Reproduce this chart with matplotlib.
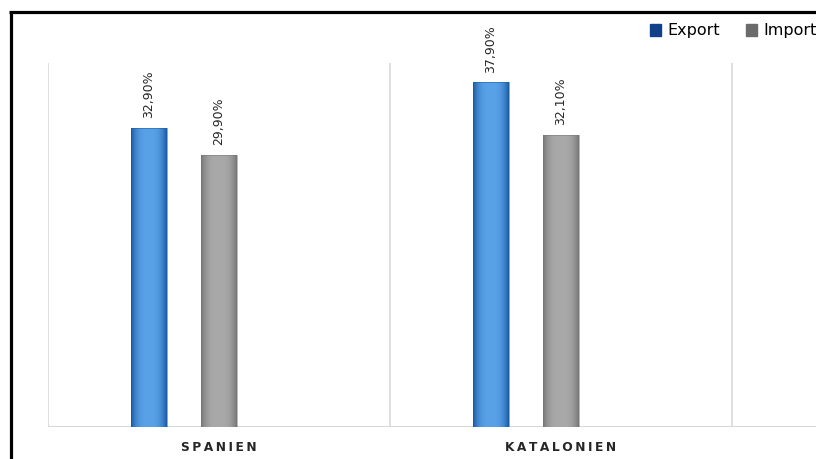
import numpy as np
import matplotlib.pyplot as plt
from matplotlib.colors import to_rgb
from matplotlib.patches import Rectangle
from matplotlib.lines import Line2D

# Daten
regionen = ['SPANIEN', 'KATALONIEN']
export = [32.9, 37.9]
importe = [29.9, 32.1]
labels_export = ['32,90%', '37,90%']
labels_import = ['29,90%', '32,10%']

W, H = 816, 459
fig = plt.figure(figsize=(W / 100, H / 100), dpi=100)
ax = fig.add_axes([48 / W, 32 / H, (W - 48) / W, 364 / H])

ax.set_xlim(0, (W - 48) / 342)
ax.set_ylim(0, 40)
for s in ax.spines.values():
    s.set_visible(False)
ax.set_yticks([])
ax.set_xticks([])

# Gitterlinien / Basislinie
for xv in [0, 1, 2]:
    ax.axvline(xv, color='#d9d9d9', lw=1.2, zorder=0)
ax.axhline(0, color='#d9d9d9', lw=1.5, zorder=0)


def gradient_bar(x, h, w, center, edge):
    c = np.array(to_rgb(center))
    e = np.array(to_rgb(edge))
    t = np.abs(np.linspace(-1, 1, 60))
    f = t ** 3
    img = c[None, :] * (1 - f[:, None]) + e[None, :] * f[:, None]
    img = img[None, :, :]
    rect = Rectangle((x - w / 2, 0), w, h, facecolor='none', edgecolor='none')
    ax.add_patch(rect)
    im = ax.imshow(img, extent=(x - w / 2, x + w / 2, 0, h), aspect='auto',
                   interpolation='bilinear', zorder=2)
    im.set_clip_path(rect)
    # dunkler Rand
    ax.add_patch(Rectangle((x - w / 2, 0), w, h, facecolor='none',
                           edgecolor=edge, lw=0.6, alpha=0.6, zorder=3))


bw = 36 / 342
for i, reg in enumerate(regionen):
    xe = i + 0.295
    xi = i + 0.5
    gradient_bar(xe, export[i], bw, '#59a2e8', '#1a5aa3')
    gradient_bar(xi, importe[i], bw, '#a9a9a9', '#777777')
    ax.text(xe, export[i] + 1.05, labels_export[i], rotation=90, ha='center',
            va='bottom', fontsize=9, color='#262626')
    ax.text(xi, importe[i] + 1.05, labels_import[i], rotation=90, ha='center',
            va='bottom', fontsize=9, color='#262626')
    ax.text(i + 0.5, -2.2, '\u2009'.join(reg), ha='center', va='center',
            fontsize=8.8, fontweight='bold', color='#262626')

ax.set_xlim(0, (W - 48) / 342)
ax.set_ylim(0, 40)

# Legende
handles = [Rectangle((0, 0), 1, 1, color='#10408a'),
           Rectangle((0, 0), 1, 1, color='#6b6b6b')]
fig.legend(handles, ['Export', 'Import'], loc='center left',
           bbox_to_anchor=(650 / W, 1 - 31 / H), ncol=2, frameon=False,
           fontsize=11.5, handlelength=0.7, handleheight=0.7,
           handletextpad=0.4, columnspacing=1.6, borderaxespad=0,
           borderpad=0)

# Rahmen links und oben
fig.add_artist(Line2D([10.5 / W, 10.5 / W], [0, 1 - 11.5 / H], color='black',
                      lw=2.3, transform=fig.transFigure, solid_capstyle='butt'))
fig.add_artist(Line2D([9.3 / W, 1], [1 - 11.5 / H, 1 - 11.5 / H], color='black',
                      lw=2.3, transform=fig.transFigure, solid_capstyle='butt'))

fig.savefig('out.png', dpi=100)
